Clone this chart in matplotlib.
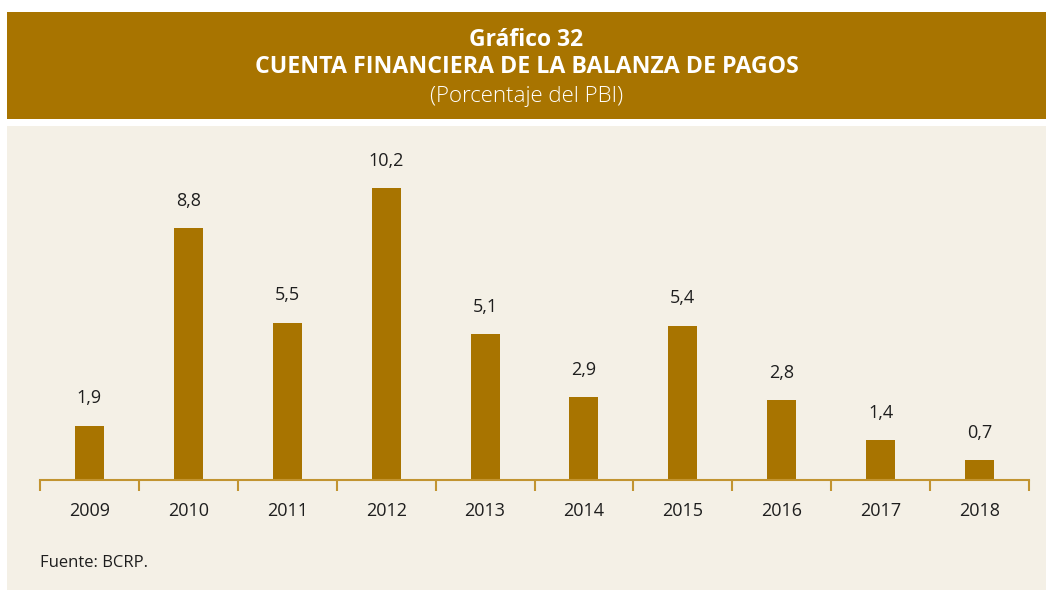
import numpy as np
import matplotlib.pyplot as plt
from matplotlib.patches import Rectangle

years = ["2009", "2010", "2011", "2012", "2013", "2014", "2015", "2016", "2017", "2018"]
values = [1.9, 8.8, 5.5, 10.2, 5.1, 2.9, 5.4, 2.8, 1.4, 0.7]
labels = ["1,9", "8,8", "5,5", "10,2", "5,1", "2,9", "5,4", "2,8", "1,4", "0,7"]

GOLD = "#A87400"
PANEL = "#F4F0E6"
AXIS = "#C29431"
TEXT = "#1E1E1E"

plt.rcParams['font.family'] = ['Open Sans', 'DejaVu Sans']

W, H = 1046, 590
fig = plt.figure(figsize=(W / 100, H / 100), dpi=100)
fig.patch.set_facecolor("white")


def px(x, y):
    # pixel coords from top-left -> figure fraction
    return x / W, (H - y) / H


# header band and panel
x0, y0 = px(7, 119)
fig.patches.append(Rectangle((x0, y0), 1 - x0, (119 - 12) / H, transform=fig.transFigure,
                             facecolor=GOLD, edgecolor="none", zorder=0))
x0, y0 = px(7, 590)
fig.patches.append(Rectangle((x0, y0), 1 - x0, (590 - 126) / H, transform=fig.transFigure,
                             facecolor=PANEL, edgecolor="none", zorder=0))

cx = (7 + W) / 2 / W
fig.text(cx, px(0, 45.5)[1], "Gráfico 32", color="white", fontsize=16.5, fontweight="bold",
         ha="center", va="baseline")
fig.text(cx, px(0, 73)[1], "CUENTA FINANCIERA DE LA BALANZA DE PAGOS", color="white",
         fontsize=16.7, fontweight="bold", ha="center", va="baseline")
fig.text(cx, px(0, 102)[1], "(Porcentaje del PBI)", color="white", fontsize=16,
         fontweight="light", ha="center", va="baseline")

# axes
left, bottom = px(40, 480)
ax = fig.add_axes([left, bottom, 989 / W, 350 / H], zorder=2)
ax.set_facecolor("none")
x = np.arange(len(years))
ax.bar(x, values, width=0.293, color=GOLD, zorder=2)
ax.set_xlim(-0.5, len(years) - 0.5)
ax.set_ylim(0, 350 / 28.6)

for xi, v, lab in zip(x, values, labels):
    ax.annotate(lab, (xi, v), xytext=(0, 16), textcoords="offset points",
                ha="center", va="baseline", fontsize=13, color=TEXT)

for s in ["top", "right", "left"]:
    ax.spines[s].set_visible(False)
ax.spines["bottom"].set_color(AXIS)
ax.spines["bottom"].set_linewidth(1.5)
ax.set_yticks([])
ax.set_xticks(x)
ax.set_xticklabels(years, fontsize=13, color=TEXT)
ax.tick_params(axis="x", which="major", length=0, pad=16)
ax.set_xticks(np.arange(-0.5, len(years)), minor=True)
ax.tick_params(axis="x", which="minor", length=8, width=1.5, color=AXIS, direction="out")

fig.text(40 / W, px(0, 567)[1], "Fuente: BCRP.", fontsize=12, color=TEXT, ha="left", va="baseline")

fig.savefig("out.png", dpi=100, facecolor=fig.get_facecolor())
